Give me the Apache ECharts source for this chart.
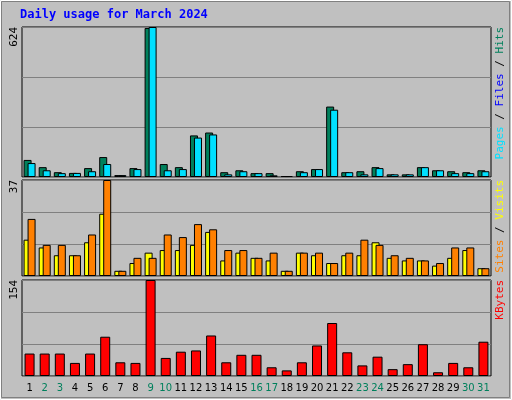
<!DOCTYPE html>
<html><head><meta charset="utf-8">
<script src="https://cdn.jsdelivr.net/npm/echarts@6/dist/echarts.min.js"></script>
<style>
html,body{margin:0;padding:0;background:#C0C0C0;}
#chart{width:512px;height:400px;}
</style></head>
<body><div id="chart"></div>
<script>
// data
var days = ['1','2','3','4','5','6','7','8','9','10','11','12','13','14','15','16','17','18','19','20','21','22','23','24','25','26','27','28','29','30','31'];
var weekend = ['2','3','9','10','16','17','23','24','30','31'];
var hits  = [71,41,20,17,37,83,8,37,620,54,41,173,185,20,28,16,16,4,24,33,293,20,24,41,11,11,41,28,24,20,28];
var files = [58,28,16,17,24,54,8,33,624,28,33,164,177,11,24,16,7,4,20,33,280,20,11,37,11,11,41,28,16,16,24];
var sites  = [14,11,8,8,13,24,2,5,9,10,10,12,17,6,9,7,6,2,9,8,5,8,8,13,7,6,6,4,7,10,3];
var visits = [22,12,12,8,16,37,2,7,7,16,15,20,18,10,10,7,9,2,9,9,5,9,14,12,8,7,6,5,11,11,3];
var kbytes = [36,36,36,21,36,63,22,21,154,29,39,41,65,22,34,34,14,9,22,49,85,38,17,31,11,19,51,6,21,14,55];
var maxHits = 624, maxVisits = 37, maxKb = 154;

var mono = 'DejaVu Sans Mono';
var grids = [
  {left:22, right:21, top:27, height:150},
  {left:22, right:21, top:180, height:96},
  {left:22, right:21, top:280, height:96}
];
grids.forEach(function(g){ g.show = true; g.backgroundColor = '#C0C0C0'; g.borderColor = '#000'; g.borderWidth = 1; });

function xAx(i, showLabel) {
  return {type:'category', gridIndex:i, data:days,
    axisLine:{show:false}, axisTick:{show:false},
    axisLabel:{show:showLabel, interval:0, fontFamily:'DejaVu Sans', fontSize:10, margin:7,
      color:function(v){ return weekend.indexOf(v) >= 0 ? '#00805C' : '#000'; }}};
}
function yAx(i, max) {
  return {type:'value', gridIndex:i, min:0, max:max, interval:max/3,
    axisLabel:{show:false}, axisLine:{show:false}, axisTick:{show:false},
    splitLine:{lineStyle:{color:'#808080', width:1}}};
}
function bar(i, data, color, w, gap) {
  var s = {type:'bar', xAxisIndex:i, yAxisIndex:i, data:data, barWidth:w,
    itemStyle:{color:color, borderColor:'#000', borderWidth:1}, animation:false, silent:true};
  if (gap) s.barGap = gap;
  return s;
}
function sideText(x, y, opts) {
  return {type:'text', x:x, y:y, rotation:Math.PI/2,
    style:Object.assign({font:'11px ' + mono, textAlign:'right', textVerticalAlign:'middle'}, opts)};
}

var chart = echarts.init(document.getElementById('chart'));
chart.setOption({
  backgroundColor:'#C0C0C0',
  grid:grids,
  xAxis:[xAx(0,false), xAx(1,false), xAx(2,true)],
  yAxis:[yAx(0,maxHits), yAx(1,maxVisits), yAx(2,maxKb)],
  series:[
    bar(0, hits, '#00805C', 8, '-50%'),
    bar(0, files, '#00E0FF', 8, '-50%'),
    bar(1, sites, '#FFFF00', 8, '-50%'),
    bar(1, visits, '#FF8000', 8, '-50%'),
    bar(2, kbytes, '#FF0000', 10)
  ],
  graphic:[
    {type:'rect', shape:{x:0.5,y:0.5,width:511,height:399}, style:{fill:'none', stroke:'#fff', lineWidth:1}},
    {type:'rect', shape:{x:1.5,y:1.5,width:508,height:396}, style:{fill:'none', stroke:'#808080', lineWidth:1}},
    {type:'text', x:20, y:9, style:{text:'Daily usage for March 2024', fill:'#0000FF', font:'bold 12px ' + mono}},
    sideText(14, 27, {text:String(maxHits), fill:'#000'}),
    sideText(14, 180, {text:String(maxVisits), fill:'#000'}),
    sideText(14, 280, {text:String(maxKb), fill:'#000'}),
    sideText(500, 27, {rich:{a:{fill:'#00E0FF', font:'11px ' + mono},b:{fill:'#000', font:'11px ' + mono},c:{fill:'#0000FF', font:'11px ' + mono},d:{fill:'#00805C', font:'11px ' + mono}},
      text:'{a|Pages}{b| / }{c|Files}{b| / }{d|Hits}'}),
    sideText(500, 180, {rich:{a:{fill:'#FF8000', font:'11px ' + mono},b:{fill:'#000', font:'11px ' + mono},c:{fill:'#FFFF00', font:'11px ' + mono}},
      text:'{a|Sites}{b| / }{c|Visits}'}),
    sideText(500, 280, {text:'KBytes', fill:'#FF0000'})
  ]
});
</script>
</body></html>
